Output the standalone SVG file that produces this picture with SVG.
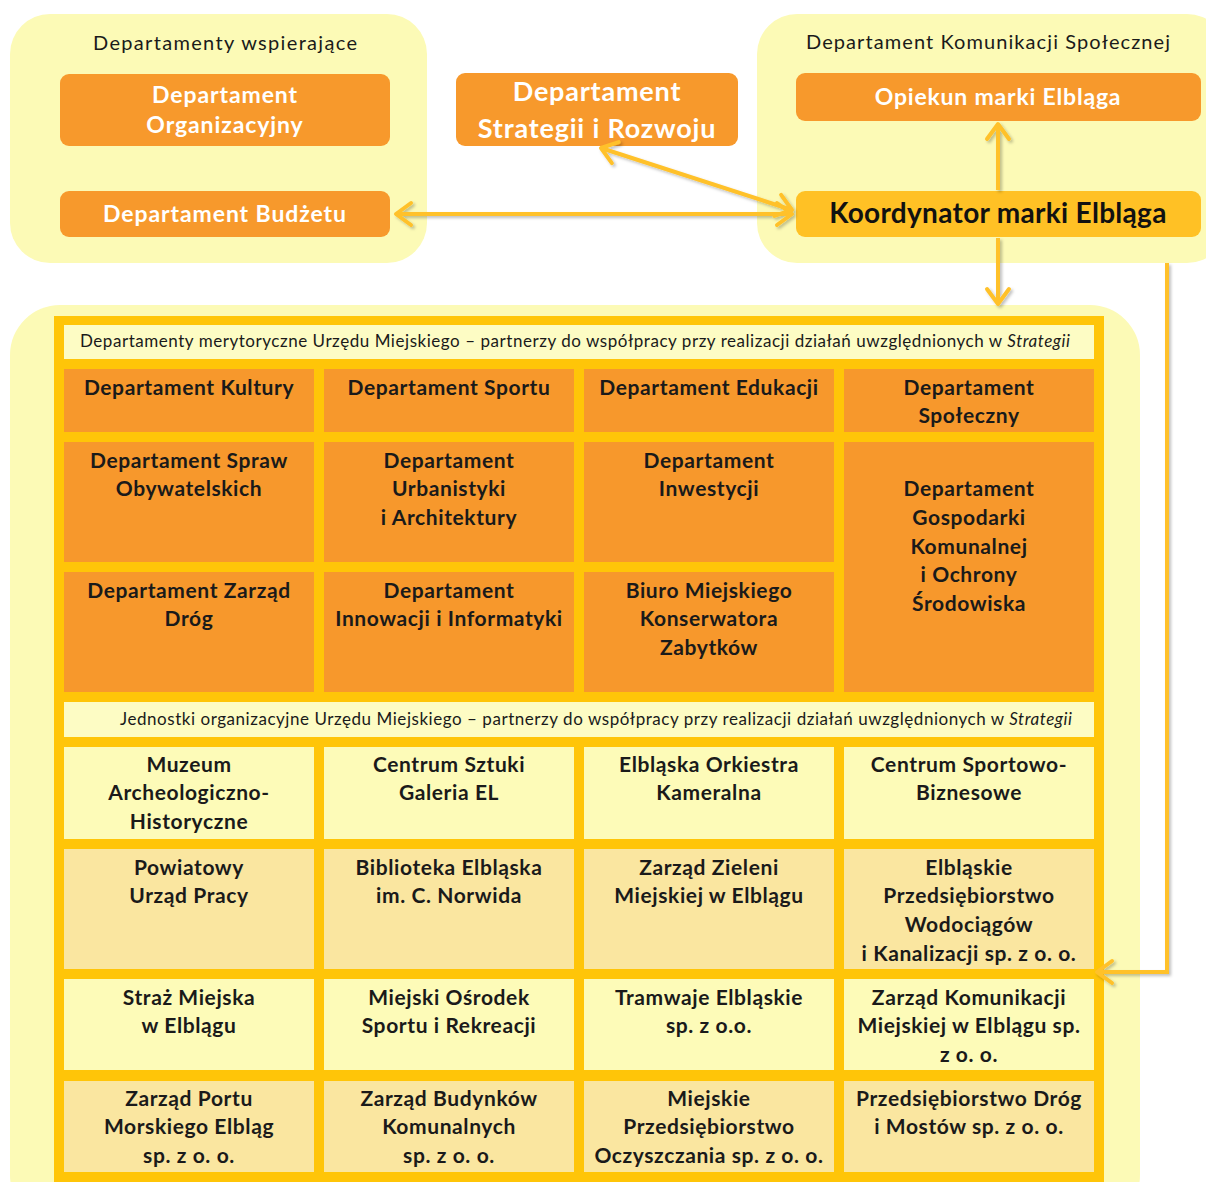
<svg xmlns="http://www.w3.org/2000/svg" width="1206" height="1182" viewBox="0 0 1206 1182">
<defs>
<style>
.panel{fill:#FCFAB6}
.obox{fill:#F7992C}
.wt{font-family:Lato,"Liberation Sans",sans-serif;font-weight:bold;fill:#FFFFFF;text-anchor:middle}
.ttl{font-family:Lato,"Liberation Sans",sans-serif;font-size:20px;fill:#1a1a1a;text-anchor:middle}
.hdr{font-family:Lato,"Liberation Sans",sans-serif;font-size:17px;fill:#1a1a1a}
.ct{font-family:Lato,"Liberation Sans",sans-serif;font-weight:bold;font-size:21px;letter-spacing:0.6px;fill:#1a1a1a;text-anchor:middle}
.c-or{fill:#F7982C}
.c-lt{fill:#FDFBB8}
.c-dk{fill:#FAE6A0}
.c-hd{fill:#FDFCC4}
.conn{fill:none;stroke:#FFC12A;stroke-width:4}
</style>
<marker id="chev" viewBox="-20 -14 24 28" markerWidth="24" markerHeight="28" markerUnits="userSpaceOnUse" refX="0" refY="0" orient="auto-start-reverse">
<path d="M-15,-11 L0,0 L-15,11" fill="none" stroke="#FFC12A" stroke-width="4" stroke-linecap="round" stroke-linejoin="round"/>
</marker>
<filter id="sh" x="-10%" y="-10%" width="120%" height="120%">
<feDropShadow dx="2" dy="2" stdDeviation="1.5" flood-color="#000" flood-opacity="0.25"/>
</filter>
</defs>

<g id="panel-wspierajace">
<rect class="panel" x="10" y="14" width="417" height="249" rx="40"/>
<text class="ttl" x="225" y="50" textLength="264" lengthAdjust="spacing">Departamenty wspierające</text>
</g>
<g id="panel-komunikacji">
<rect class="panel" x="757" y="14" width="470" height="249" rx="40"/>
<text class="ttl" x="988" y="49" textLength="364" lengthAdjust="spacing">Departament Komunikacji Społecznej</text>
</g>
<g id="panel-partnerzy">
<rect class="panel" x="10" y="305" width="1130" height="920" rx="50"/>
</g>

<g id="node-organizacyjny">
<rect class="obox" x="60" y="74" width="330" height="72" rx="9"/>
<text class="wt" font-size="23" letter-spacing="0.9" x="225" y="103">Departament</text>
<text class="wt" font-size="23" letter-spacing="0.9" x="225" y="133">Organizacyjny</text>
</g>
<g id="node-budzetu">
<rect class="obox" x="60" y="191" width="330" height="46" rx="9"/>
<text class="wt" font-size="23" letter-spacing="0.9" x="225" y="222">Departament Budżetu</text>
</g>
<g id="node-strategii">
<rect class="obox" x="456" y="73" width="282" height="73" rx="9"/>
<text class="wt" font-size="27" letter-spacing="0.8" x="597" y="101">Departament</text>
<text class="wt" font-size="27" letter-spacing="0.8" x="597" y="138">Strategii i Rozwoju</text>
</g>
<g id="node-opiekun">
<rect class="obox" x="796" y="73" width="405" height="48" rx="9"/>
<text class="wt" font-size="23" letter-spacing="0.8" x="998" y="105">Opiekun marki Elbląga</text>
</g>
<g id="node-koordynator">
<rect fill="#FFC125" x="796" y="191" width="405" height="46" rx="9"/>
<text font-family="Lato,'Liberation Sans',sans-serif" font-weight="bold" font-size="28" letter-spacing="0.3" fill="#111" text-anchor="middle" x="998" y="223">Koordynator marki Elbląga</text>
</g>

<g id="table">
<rect fill="#FFC508" x="54" y="316" width="1050" height="880"/>
<g id="header-1">
<rect class="c-hd" x="64" y="325" width="1030" height="34"/>
<text class="hdr" x="80" y="347" textLength="990" lengthAdjust="spacing">Departamenty merytoryczne Urzędu Miejskiego – partnerzy do współpracy przy realizacji działań uwzględnionych w <tspan font-style="italic">Strategii</tspan></text>
</g>
<g id="cell-kultury"><rect class="c-or" x="64" y="369" width="250" height="63"/><text class="ct" x="189" y="395">Departament Kultury</text></g>
<g id="cell-sportu"><rect class="c-or" x="324" y="369" width="250" height="63"/><text class="ct" x="449" y="395">Departament Sportu</text></g>
<g id="cell-edukacji"><rect class="c-or" x="584" y="369" width="250" height="63"/><text class="ct" x="709" y="395">Departament Edukacji</text></g>
<g id="cell-spoleczny"><rect class="c-or" x="844" y="369" width="250" height="63"/><text class="ct" x="969" y="395">Departament</text><text class="ct" x="969" y="423">Społeczny</text></g>

<g id="cell-obywatelskich"><rect class="c-or" x="64" y="442" width="250" height="120"/><text class="ct" x="189" y="468">Departament Spraw</text><text class="ct" x="189" y="496">Obywatelskich</text></g>
<g id="cell-urbanistyki"><rect class="c-or" x="324" y="442" width="250" height="120"/><text class="ct" x="449" y="468">Departament</text><text class="ct" x="449" y="496">Urbanistyki</text><text class="ct" x="449" y="525">i Architektury</text></g>
<g id="cell-inwestycji"><rect class="c-or" x="584" y="442" width="250" height="120"/><text class="ct" x="709" y="468">Departament</text><text class="ct" x="709" y="496">Inwestycji</text></g>
<g id="cell-gospodarki"><rect class="c-or" x="844" y="442" width="250" height="250"/><text class="ct" x="969" y="496">Departament</text><text class="ct" x="969" y="525">Gospodarki</text><text class="ct" x="969" y="554">Komunalnej</text><text class="ct" x="969" y="582">i Ochrony</text><text class="ct" x="969" y="611">Środowiska</text></g>

<g id="cell-drog"><rect class="c-or" x="64" y="572" width="250" height="120"/><text class="ct" x="189" y="598">Departament Zarząd</text><text class="ct" x="189" y="626">Dróg</text></g>
<g id="cell-innowacji"><rect class="c-or" x="324" y="572" width="250" height="120"/><text class="ct" x="449" y="598">Departament</text><text class="ct" x="449" y="626">Innowacji i Informatyki</text></g>
<g id="cell-konserwatora"><rect class="c-or" x="584" y="572" width="250" height="120"/><text class="ct" x="709" y="598">Biuro Miejskiego</text><text class="ct" x="709" y="626">Konserwatora</text><text class="ct" x="709" y="655">Zabytków</text></g>

<g id="header-2">
<rect class="c-hd" x="64" y="702" width="1030" height="35"/>
<text class="hdr" x="120" y="725" textLength="952" lengthAdjust="spacing">Jednostki organizacyjne Urzędu Miejskiego – partnerzy do współpracy przy realizacji działań uwzględnionych w <tspan font-style="italic">Strategii</tspan></text>
</g>

<g id="cell-muzeum"><rect class="c-lt" x="64" y="747" width="250" height="92"/><text class="ct" x="189" y="772">Muzeum</text><text class="ct" x="189" y="800">Archeologiczno-</text><text class="ct" x="189" y="829">Historyczne</text></g>
<g id="cell-galeria"><rect class="c-lt" x="324" y="747" width="250" height="92"/><text class="ct" x="449" y="772">Centrum Sztuki</text><text class="ct" x="449" y="800">Galeria EL</text></g>
<g id="cell-orkiestra"><rect class="c-lt" x="584" y="747" width="250" height="92"/><text class="ct" x="709" y="772">Elbląska Orkiestra</text><text class="ct" x="709" y="800">Kameralna</text></g>
<g id="cell-csb"><rect class="c-lt" x="844" y="747" width="250" height="92"/><text class="ct" x="969" y="772">Centrum Sportowo-</text><text class="ct" x="969" y="800">Biznesowe</text></g>

<g id="cell-pup"><rect class="c-dk" x="64" y="849" width="250" height="120"/><text class="ct" x="189" y="875">Powiatowy</text><text class="ct" x="189" y="903">Urząd Pracy</text></g>
<g id="cell-biblioteka"><rect class="c-dk" x="324" y="849" width="250" height="120"/><text class="ct" x="449" y="875">Biblioteka Elbląska</text><text class="ct" x="449" y="903">im. C. Norwida</text></g>
<g id="cell-zieleni"><rect class="c-dk" x="584" y="849" width="250" height="120"/><text class="ct" x="709" y="875">Zarząd Zieleni</text><text class="ct" x="709" y="903">Miejskiej w Elblągu</text></g>
<g id="cell-wodociagow"><rect class="c-dk" x="844" y="849" width="250" height="120"/><text class="ct" x="969" y="875">Elbląskie</text><text class="ct" x="969" y="903">Przedsiębiorstwo</text><text class="ct" x="969" y="932">Wodociągów</text><text class="ct" x="969" y="961" letter-spacing="0.2">i Kanalizacji sp. z o. o.</text></g>

<g id="cell-straz"><rect class="c-lt" x="64" y="979" width="250" height="91"/><text class="ct" x="189" y="1005">Straż Miejska</text><text class="ct" x="189" y="1033">w Elblągu</text></g>
<g id="cell-mosir"><rect class="c-lt" x="324" y="979" width="250" height="91"/><text class="ct" x="449" y="1005">Miejski Ośrodek</text><text class="ct" x="449" y="1033">Sportu i Rekreacji</text></g>
<g id="cell-tramwaje"><rect class="c-lt" x="584" y="979" width="250" height="91"/><text class="ct" x="709" y="1005">Tramwaje Elbląskie</text><text class="ct" x="709" y="1033">sp. z o.o.</text></g>
<g id="cell-zkm"><rect class="c-lt" x="844" y="979" width="250" height="91"/><text class="ct" x="969" y="1005">Zarząd Komunikacji</text><text class="ct" x="969" y="1033" letter-spacing="0.2">Miejskiej w Elblągu sp.</text><text class="ct" x="969" y="1062">z o. o.</text></g>

<g id="cell-port"><rect class="c-dk" x="64" y="1081" width="250" height="91"/><text class="ct" x="189" y="1106">Zarząd Portu</text><text class="ct" x="189" y="1134">Morskiego Elbląg</text><text class="ct" x="189" y="1163">sp. z o. o.</text></g>
<g id="cell-zbk"><rect class="c-dk" x="324" y="1081" width="250" height="91"/><text class="ct" x="449" y="1106">Zarząd Budynków</text><text class="ct" x="449" y="1134">Komunalnych</text><text class="ct" x="449" y="1163">sp. z o. o.</text></g>
<g id="cell-oczyszczania"><rect class="c-dk" x="584" y="1081" width="250" height="91"/><text class="ct" x="709" y="1106">Miejskie</text><text class="ct" x="709" y="1134">Przedsiębiorstwo</text><text class="ct" x="709" y="1163" letter-spacing="0.2">Oczyszczania sp. z o. o.</text></g>
<g id="cell-drogi-mosty"><rect class="c-dk" x="844" y="1081" width="250" height="91"/><text class="ct" x="969" y="1106" letter-spacing="0.2">Przedsiębiorstwo Dróg</text><text class="ct" x="969" y="1134">i Mostów sp. z o. o.</text></g>
</g>

<g id="connectors" filter="url(#sh)">
<line class="conn" x1="396" y1="214" x2="792" y2="214" marker-start="url(#chev)" marker-end="url(#chev)"/>
<line class="conn" x1="601" y1="148" x2="792" y2="210" marker-start="url(#chev)" marker-end="url(#chev)"/>
<line class="conn" x1="998" y1="190" x2="998" y2="124" marker-end="url(#chev)"/>
<line class="conn" x1="998" y1="238" x2="998" y2="304" marker-end="url(#chev)"/>
<path class="conn" d="M1167,263 V972 H1097" stroke-width="5" marker-end="url(#chev)"/>
</g>
</svg>
